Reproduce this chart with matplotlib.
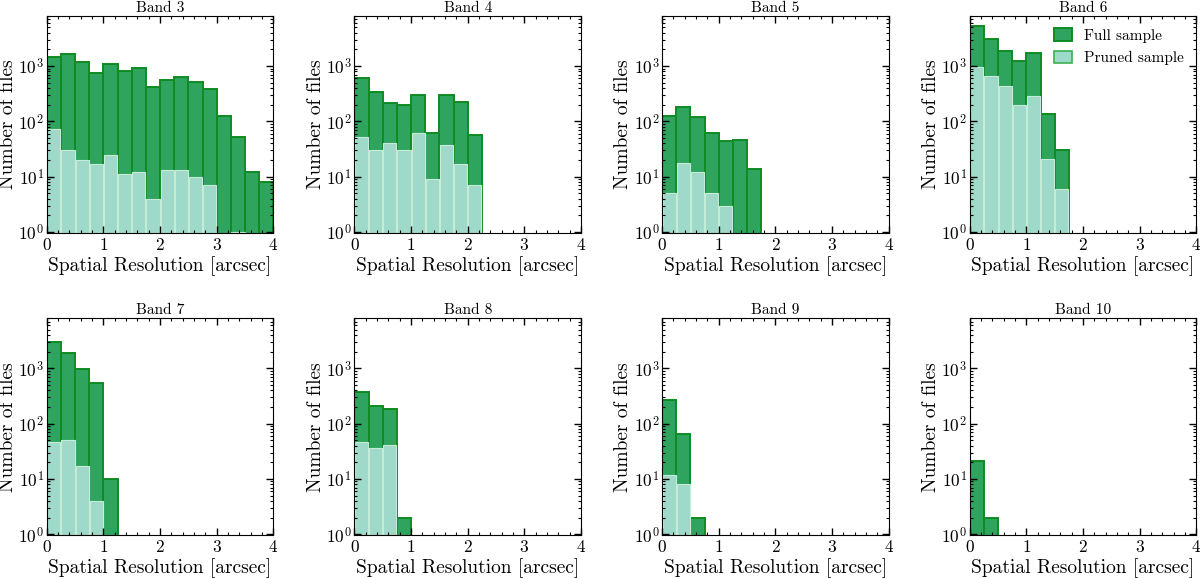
import numpy as np
import matplotlib
matplotlib.use("Agg")
import matplotlib.pyplot as plt
from matplotlib.ticker import AutoMinorLocator, LogLocator, NullFormatter

plt.rcParams['font.family'] = 'serif'
plt.rcParams['font.serif'] = ['cmr10', 'DejaVu Serif']
plt.rcParams['mathtext.fontset'] = 'cm'
plt.rcParams['axes.formatter.use_mathtext'] = True
plt.rcParams['axes.unicode_minus'] = False

bin_edges = np.arange(0, 4.01, 0.25)
bands = ['Band 3', 'Band 4', 'Band 5', 'Band 6', 'Band 7', 'Band 8', 'Band 9', 'Band 10']

full_b3 = [1450, 1650, 1200, 740, 1100, 800, 920, 420, 560, 640, 520, 385, 125, 53, 12, 8]
pruned_b3 = [72, 30, 20, 17, 25, 11, 12, 4, 13, 13, 10, 7, 0, 1, 0, 0]
full_b4 = [600, 345, 218, 200, 300, 61, 300, 228, 58, 0, 0, 0, 0, 0, 0, 0]
pruned_b4 = [53, 30, 41, 30, 63, 9, 38, 17, 7, 0, 0, 0, 0, 0, 0, 0]
full_b5 = [127, 185, 121, 63, 44, 46, 14, 0, 0, 0, 0, 0, 0, 0, 0, 0]
pruned_b5 = [5, 18, 12, 5, 3, 0, 0, 0, 0, 0, 0, 0, 0, 0, 0, 0]
full_b6 = [5400, 3100, 1900, 1250, 1750, 136, 31, 0, 0, 0, 0, 0, 0, 0, 0, 0]
pruned_b6 = [960, 670, 440, 197, 285, 21, 6, 0, 0, 0, 0, 0, 0, 0, 0, 0]
full_b7 = [3030, 1920, 985, 535, 10, 0, 0, 0, 0, 0, 0, 0, 0, 0, 0, 0]
pruned_b7 = [46, 50, 17, 4, 0, 0, 0, 0, 0, 0, 0, 0, 0, 0, 0, 0]
full_b8 = [377, 211, 183, 2, 0, 0, 0, 0, 0, 0, 0, 0, 0, 0, 0, 0]
pruned_b8 = [46, 36, 41, 0, 0, 0, 0, 0, 0, 0, 0, 0, 0, 0, 0, 0]
full_b9 = [271, 66, 2, 0, 0, 0, 0, 0, 0, 0, 0, 0, 0, 0, 0, 0]
pruned_b9 = [12, 8, 0, 0, 0, 0, 0, 0, 0, 0, 0, 0, 0, 0, 0, 0]
full_b10 = [21, 2, 0, 0, 0, 0, 0, 0, 0, 0, 0, 0, 0, 0, 0, 0]
pruned_b10 = [0, 0, 0, 0, 0, 0, 0, 0, 0, 0, 0, 0, 0, 0, 0, 0]

full = [full_b3, full_b4, full_b5, full_b6, full_b7, full_b8, full_b9, full_b10]
pruned = [pruned_b3, pruned_b4, pruned_b5, pruned_b6, pruned_b7, pruned_b8, pruned_b9, pruned_b10]

centers = 0.5 * (bin_edges[:-1] + bin_edges[1:])

fig, axes = plt.subplots(2, 4, figsize=(12, 5.78), dpi=100)
fig.subplots_adjust(left=0.039, right=0.997, top=0.972, bottom=0.074,
                    wspace=0.358, hspace=0.394)

for i, ax in enumerate(axes.flat):
    ax.hist(centers, bins=bin_edges, weights=full[i], log=True,
            color='#2ea45f', edgecolor='#0e8c22', linewidth=1.4,
            label='Full sample')
    ax.hist(centers, bins=bin_edges, weights=pruned[i], log=True, rwidth=0.93,
            color='#9fd9c9', edgecolor='#c4ecd6', linewidth=0.8,
            label='Pruned sample')
    ax.set_yscale('log')
    ax.set_xlim(0, 4)
    ax.set_ylim(0.96, 8000)
    ax.set_title(bands[i], fontsize=11, pad=3)
    ax.set_xlabel('Spatial Resolution [arcsec]', fontsize=14, labelpad=2)
    ax.set_ylabel('Number of files', fontsize=14, labelpad=1)
    ax.set_xticks([0, 1, 2, 3, 4])
    ax.xaxis.set_minor_locator(AutoMinorLocator(5))
    ax.yaxis.set_major_locator(LogLocator(base=10, numticks=10))
    ax.yaxis.set_minor_locator(LogLocator(base=10, subs=np.arange(2, 10), numticks=20))
    ax.yaxis.set_minor_formatter(NullFormatter())
    ax.tick_params(which='both', direction='in', top=True, right=True, labelsize=12.5)
    ax.tick_params(which='major', length=5, width=1)
    ax.tick_params(which='minor', length=2.5, width=0.8)
    ax.tick_params(axis='x', pad=3)
    ax.tick_params(axis='y', pad=2)
    if i == 3:
        leg = ax.legend(loc='upper right', frameon=False, fontsize=11,
                        handlelength=1.2, handleheight=0.9, borderaxespad=0.4)
        leg.legend_handles[1].set_edgecolor('#3cb050')
        leg.legend_handles[1].set_linewidth(1.2)

fig.savefig('out.png', dpi=100)
